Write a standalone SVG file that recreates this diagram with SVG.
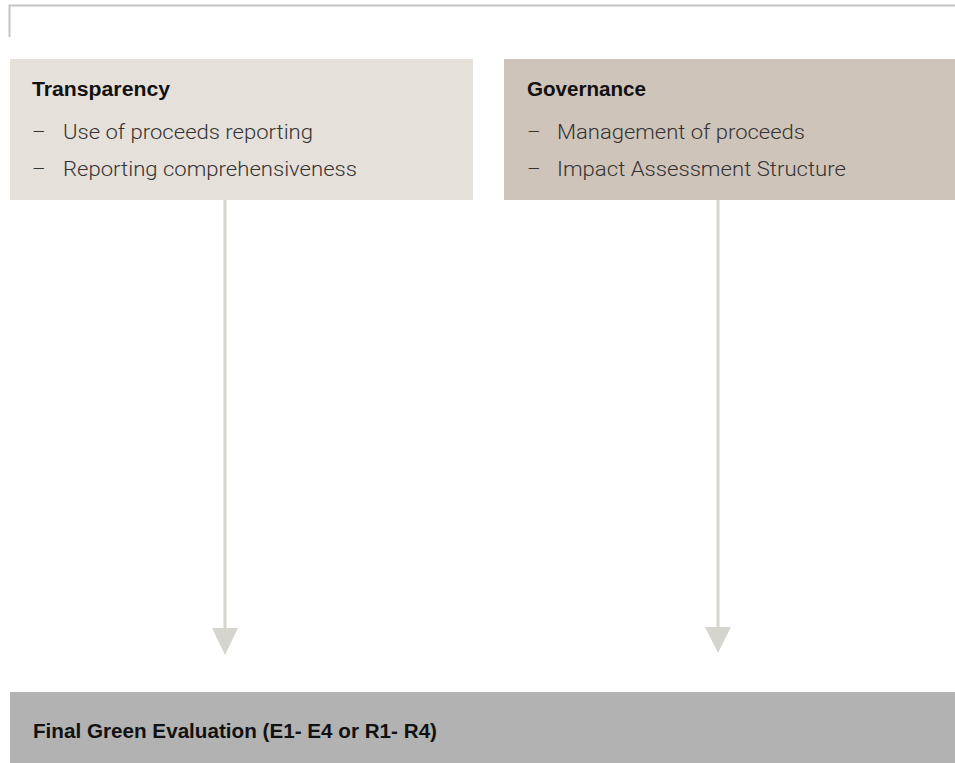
<svg xmlns="http://www.w3.org/2000/svg" width="955" height="763" viewBox="0 0 955 763">
<style>
.title{font-family:"Liberation Sans",Arial,sans-serif;font-weight:bold;font-size:20px;fill:#111}
.item{font-family:"Roboto","Liberation Sans",Arial,sans-serif;font-weight:300;font-size:21px;fill:#333}
.conn{stroke:#d6d4ce;stroke-width:3;fill:none}
.head{fill:#d6d4ce}
</style>
<rect width="955" height="763" fill="#fff"/>
<path d="M9.5 37V5.5H955" fill="none" stroke="#c4c4c4" stroke-width="2"/>
<g id="connectors">
<line class="conn" x1="225" y1="200" x2="225" y2="630"/>
<polygon class="head" points="212,628 238,628 225,655"/>
<line class="conn" x1="718" y1="200" x2="718" y2="628"/>
<polygon class="head" points="705,627 731,627 718,653"/>
</g>
<g id="transparency">
<rect x="10" y="59" width="463" height="141" fill="#e6e0da"/>
<text class="title" x="32" y="96" textLength="138" lengthAdjust="spacingAndGlyphs">Transparency</text>
<text class="item" x="32" y="139">–</text>
<text class="item" x="63" y="139" textLength="250" lengthAdjust="spacingAndGlyphs">Use of proceeds reporting</text>
<text class="item" x="32" y="176">–</text>
<text class="item" x="63" y="176" textLength="294" lengthAdjust="spacingAndGlyphs">Reporting comprehensiveness</text>
</g>
<g id="governance">
<rect x="504" y="59" width="451" height="141" fill="#cfc4ba"/>
<text class="title" x="527" y="96" textLength="119" lengthAdjust="spacingAndGlyphs">Governance</text>
<text class="item" x="527" y="139">–</text>
<text class="item" x="557" y="139" textLength="248" lengthAdjust="spacingAndGlyphs">Management of proceeds</text>
<text class="item" x="527" y="176">–</text>
<text class="item" x="557" y="176" textLength="289" lengthAdjust="spacingAndGlyphs">Impact Assessment Structure</text>
</g>
<g id="final">
<rect x="10" y="692" width="945" height="71" fill="#b2b2b2"/>
<text class="title" x="33" y="738" textLength="404" lengthAdjust="spacingAndGlyphs">Final Green Evaluation (E1- E4 or R1- R4)</text>
</g>
</svg>
